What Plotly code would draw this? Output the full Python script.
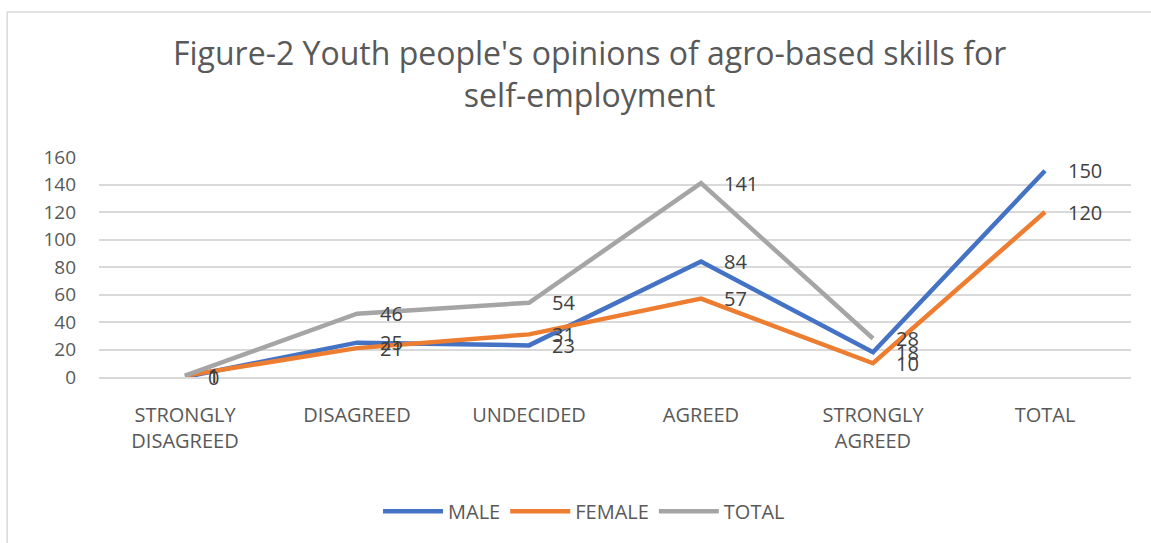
import plotly.graph_objects as go

categories = ["STRONGLY<br>DISAGREED", "DISAGREED", "UNDECIDED", "AGREED", "STRONGLY<br>AGREED", "TOTAL"]
male = [0, 25, 23, 84, 18, 150]
female = [1, 21, 31, 57, 10, 120]
total = [1, 46, 54, 141, 28, None]

series = [("MALE", male, "#4472C4"), ("FEMALE", female, "#ED7D31"), ("TOTAL", total, "#A5A5A5")]

FONT = "Open Sans, Liberation Sans"

fig = go.Figure()
annotations = []
for name, vals, color in series:
    fig.add_trace(go.Scatter(x=categories, y=vals, name=name, mode="lines",
                             line=dict(color=color, width=4.5), connectgaps=False))
    for c, v in zip(categories, vals):
        if v is None:
            continue
        annotations.append(dict(x=c, y=v, text=str(v), showarrow=False, xanchor="left",
                                yanchor="middle", xshift=21,
                                font=dict(family=FONT, size=20, color="#404040")))

annotations.append(dict(x=0.475, y=1.0, xref="paper", yref="paper", yshift=39, showarrow=False,
                        text="Figure-2 Youth people's opinions of agro-based skills for<br>self-employment",
                        font=dict(family=FONT, size=32, color="#595959"),
                        xanchor="center", yanchor="bottom"))

fig.update_layout(
    width=1151, height=543,
    margin=dict(l=99, r=20, t=157, b=166),
    paper_bgcolor="white", plot_bgcolor="white",
    annotations=annotations,
    showlegend=True,
    legend=dict(orientation="h", x=0.47, xanchor="center", y=-0.61, yanchor="middle",
                font=dict(family=FONT, size=20, color="#595959"),
                itemwidth=60, tracegroupgap=0),
    font=dict(family=FONT, color="#595959"),
    shapes=[dict(type="rect", xref="paper", yref="paper", x0=-0.089, x1=1.1, y0=-0.8, y1=1.659,
                 line=dict(color="#D9D9D9", width=1.5), fillcolor="rgba(0,0,0,0)", layer="below")],
)
fig.update_xaxes(range=[-0.5, 5.5], showgrid=False, showline=True, linecolor="#D9D9D9", linewidth=1.5,
                 tickfont=dict(family=FONT, size=20, color="#595959"), ticks="", ticklabelstandoff=19)
fig.update_yaxes(range=[0, 160], dtick=20, showgrid=True, gridcolor="#D9D9D9", gridwidth=1.5,
                 zeroline=False, showline=False, tickfont=dict(family=FONT, size=19, color="#595959"),
                 ticks="", ticklabelstandoff=22)

fig.write_html("out.html")
